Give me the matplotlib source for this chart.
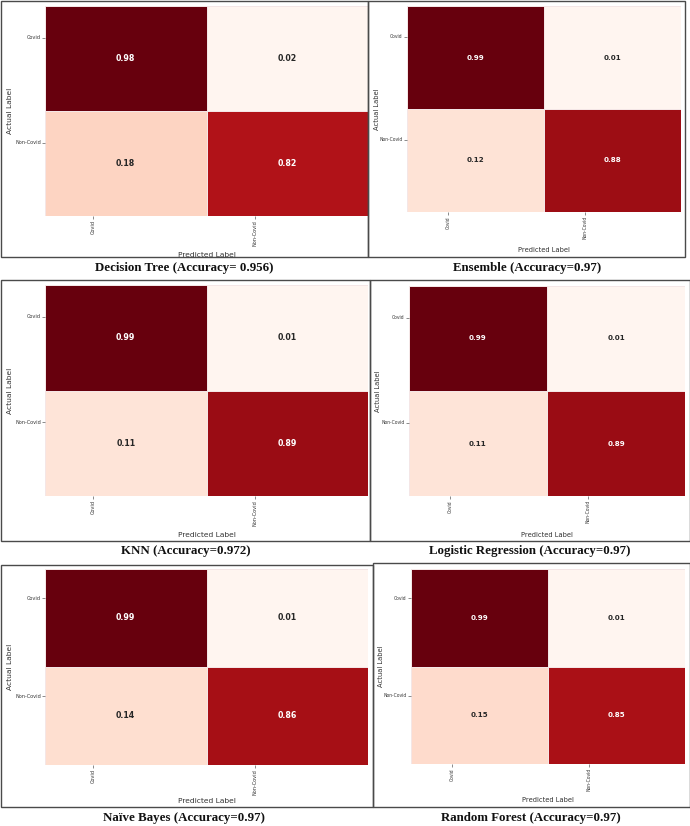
"""
Confusion matrices for the six covid classifiers,
2x3 grid with framed panels and captions below.
"""

import numpy as np
import matplotlib
matplotlib.use('Agg')
import matplotlib.pyplot as plt
from matplotlib.patches import Rectangle
import seaborn as sns


W, H = 690, 826   # [px]

class_names = ['Covid', 'Non-Covid']

titles = ['Decision Tree (Accuracy= 0.956)',
          'Ensemble (Accuracy=0.97)',
          'KNN (Accuracy=0.972)',
          'Logistic Regression (Accuracy=0.97)',
          'Naïve Bayes (Accuracy=0.97)',
          'Random Forest (Accuracy=0.97)']

cm_dt  = [[0.98, 0.02], [0.18, 0.82]]
cm_ens = [[0.99, 0.01], [0.12, 0.88]]
cm_knn = [[0.99, 0.01], [0.11, 0.89]]
cm_lr  = [[0.99, 0.01], [0.11, 0.89]]
cm_nb  = [[0.99, 0.01], [0.14, 0.86]]
cm_rf  = [[0.99, 0.01], [0.15, 0.85]]
matrices = [cm_dt, cm_ens, cm_knn, cm_lr, cm_nb, cm_rf]

# pixel layout: heatmap box, frame box, caption centre, font scale
heat_px  = [(45, 6, 368, 216), (407, 6, 681, 212),
            (45, 285, 368, 496), (409, 286, 685, 496),
            (45, 569, 368, 765), (411, 569, 685, 764)]
frame_px = [(0.5, 0.5, 368, 257), (368, 0.5, 685, 257),
            (0.5, 280, 370, 541), (370, 280, 689.5, 541),
            (1, 565, 373, 807), (373, 563, 689.5, 807)]
caption_px = [(184, 268), (527, 268), (186, 551), (530, 551), (184, 818), (531, 818)]
scale = [1.0, 0.9, 1.0, 0.9, 1.0, 0.9]
tick_pos = [0.3, 1.3]   # the original ticks sit off the cell centres


fig = plt.figure(figsize=(W / 100, H / 100), dpi=100)


def px_rect(box):
    x0, y0, x1, y1 = box
    return [x0 / W, 1 - y1 / H, (x1 - x0) / W, (y1 - y0) / H]


for i in range(6):
    s = scale[i]
    ax = fig.add_axes(px_rect(heat_px[i]))
    sns.heatmap(np.array(matrices[i]), annot=True, fmt='.2f', cmap='Reds', cbar=False,
                linewidths=0.6, linecolor='#f4e6e6',
                annot_kws={'size': 5.7 * s, 'weight': 'bold'},
                xticklabels=class_names, yticklabels=class_names, ax=ax)
    ax.set_xticks(tick_pos)
    ax.set_yticks(tick_pos)
    ax.set_xticklabels(class_names, rotation=90)
    ax.set_yticklabels(class_names, rotation=0)
    ax.tick_params(labelsize=3.6 * s, length=2, width=0.4, pad=1, colors='#333333')
    ax.set_xlabel('Predicted Label', fontsize=5.4 * s, color='#333333')
    ax.set_ylabel('Actual Label', fontsize=5.4 * s, color='#333333')
    ax.xaxis.set_label_coords(0.5, -0.17)
    ax.yaxis.set_label_coords(-0.1, 0.5)

    fx, fy, fw, fh = px_rect(frame_px[i])
    fig.add_artist(Rectangle((fx, fy), fw, fh, transform=fig.transFigure,
                             fill=False, edgecolor='#4a4a4a', linewidth=1.0))

    cx, cy = caption_px[i]
    fig.text(cx / W, 1 - cy / H, titles[i], ha='center', va='center',
             family='Liberation Serif', weight='bold', fontsize=9.3, color='#111111')

fig.savefig('out.png', dpi=100)
